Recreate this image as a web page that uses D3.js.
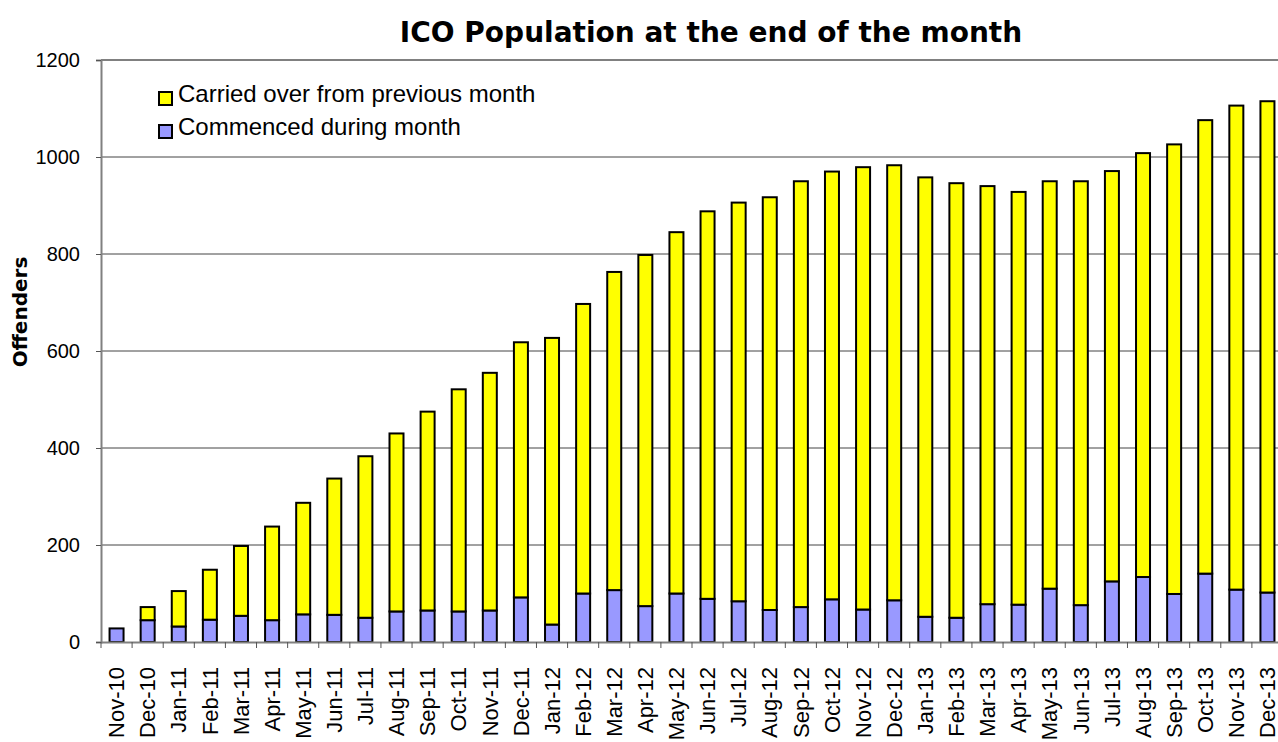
<!DOCTYPE html>
<html>
<head>
<meta charset="utf-8">
<script src="https://cdn.jsdelivr.net/npm/d3@7"></script>
<style>
  body { margin: 0; background: #fff; overflow: hidden; }
  svg { display: block; }
  text { font-family: "Liberation Sans", Arial, sans-serif; }
</style>
</head>
<body>
<svg width="1278" height="742"></svg>
<script>
// month labels
var months = ["Nov-10","Dec-10","Jan-11","Feb-11","Mar-11","Apr-11","May-11","Jun-11","Jul-11","Aug-11",
  "Sep-11","Oct-11","Nov-11","Dec-11","Jan-12","Feb-12","Mar-12","Apr-12","May-12","Jun-12",
  "Jul-12","Aug-12","Sep-12","Oct-12","Nov-12","Dec-12","Jan-13","Feb-13","Mar-13","Apr-13",
  "May-13","Jun-13","Jul-13","Aug-13","Sep-13","Oct-13","Nov-13","Dec-13"];

// commenced during month (bottom, blue)
var commenced = [28,45,32,46,54,45,57,56,50,63,65,63,65,92,36,100,107,74,100,89,
  84,66,72,88,67,86,52,50,78,77,110,76,125,134,99,141,108,102];

// carried over from previous month (top, yellow)
var carried = [0,27,73,103,144,193,230,281,333,367,410,458,490,526,591,597,656,724,745,799,
  822,851,878,882,912,897,906,896,862,851,840,874,846,874,927,935,998,1013];

var yTicks = [0,200,400,600,800,1000,1200];

var margin = {top: 60, left: 101, bottom: 100};
var height = 742 - margin.top - margin.bottom; // 582
var width = 1182; // runs a little past the right edge, like the original

var svg = d3.select("svg");
var g = svg.append("g")
    .attr("transform", "translate(" + margin.left + "," + margin.top + ")");

var x = d3.scaleBand()
    .domain(months)
    .range([0, width])
    .paddingInner(0.55)
    .paddingOuter(0.275);

var y = d3.scaleLinear()
    .domain([0, 1200])
    .range([height, 0]);

// gridlines
g.selectAll(".grid")
    .data(yTicks.filter(function(d) { return d > 0 && d < 1200; }))
  .enter().append("line")
    .attr("x1", 0).attr("x2", width)
    .attr("y1", function(d) { return y(d); })
    .attr("y2", function(d) { return y(d); })
    .attr("stroke", "#444")
    .attr("stroke-width", 1);

// top frame
g.append("line")
    .attr("x1", 0).attr("x2", width)
    .attr("y1", 0).attr("y2", 0)
    .attr("stroke", "#808080")
    .attr("stroke-width", 2);

// stacked data
var rows = months.map(function(m, i) {
  return {month: m, commenced: commenced[i], carried: carried[i]};
});
var stack = d3.stack().keys(["commenced", "carried"]);
var series = stack(rows);
var colors = {commenced: "#9999ff", carried: "#ffff00"};

g.selectAll(".series")
    .data(series)
  .enter().append("g")
    .attr("fill", function(d) { return colors[d.key]; })
  .selectAll("rect")
    .data(function(d) { return d.filter(function(p) { return p[1] - p[0] > 0; }); })
  .enter().append("rect")
    .attr("x", function(d) { return x(d.data.month); })
    .attr("width", x.bandwidth())
    .attr("y", function(d) { return y(d[1]); })
    .attr("height", function(d) { return y(d[0]) - y(d[1]); })
    .attr("stroke", "#000")
    .attr("stroke-width", 2);

// y axis
var yAxis = g.append("g")
    .call(d3.axisLeft(y).tickValues(yTicks).tickFormat(d3.format("d")).tickSize(5).tickPadding(16));
yAxis.select(".domain").attr("stroke", "#808080").attr("stroke-width", 2);
yAxis.selectAll(".tick line").attr("stroke", "#555");
yAxis.selectAll("text")
    .attr("font-size", "20px")
    .attr("fill", "#000")
    .style("font-family", "Liberation Sans, Arial, sans-serif");

// x axis
var xAxis = g.append("g")
    .attr("transform", "translate(0," + height + ")")
    .call(d3.axisBottom(x).tickSize(0).tickPadding(0));
xAxis.select(".domain").attr("stroke", "#808080").attr("stroke-width", 2);
xAxis.selectAll("text")
    .attr("font-size", "22px")
    .attr("fill", "#000")
    .style("font-family", "Liberation Sans, Arial, sans-serif")
    .attr("text-anchor", "end")
    .attr("transform", "rotate(-90)")
    .attr("x", -25)
    .attr("y", 0)
    .attr("dy", "0.35em");

// x tick marks between categories
var step = x.step();
g.selectAll(".xtick")
    .data(d3.range(months.length + 1))
  .enter().append("line")
    .attr("x1", function(d) { return d * step; })
    .attr("x2", function(d) { return d * step; })
    .attr("y1", height)
    .attr("y2", height + 6)
    .attr("stroke", "#555");

// title
svg.append("text")
    .attr("x", 711)
    .attr("y", 42)
    .attr("text-anchor", "middle")
    .attr("font-size", "28px")
    .attr("font-weight", "bold")
    .style("font-family", "'DejaVu Sans', sans-serif")
    .text("ICO Population at the end of the month");

// y axis title
svg.append("text")
    .attr("transform", "translate(27,312) rotate(-90)")
    .attr("text-anchor", "middle")
    .attr("font-size", "20px")
    .attr("font-weight", "bold")
    .style("font-family", "'DejaVu Sans', sans-serif")
    .text("Offenders");

// legend
var legend = [
  {label: "Carried over from previous month", key: "carried"},
  {label: "Commenced during month", key: "commenced"}
];
var lg = svg.selectAll(".legend")
    .data(legend)
  .enter().append("g")
    .attr("transform", function(d, i) { return "translate(159," + (92 + i * 33) + ")"; });
lg.append("rect")
    .attr("width", 13).attr("height", 13)
    .attr("fill", function(d) { return colors[d.key]; })
    .attr("stroke", "#000")
    .attr("stroke-width", 2);
lg.append("text")
    .attr("x", 19)
    .attr("y", 10)
    .attr("font-size", "24px")
    .text(function(d) { return d.label; });
</script>
</body>
</html>
